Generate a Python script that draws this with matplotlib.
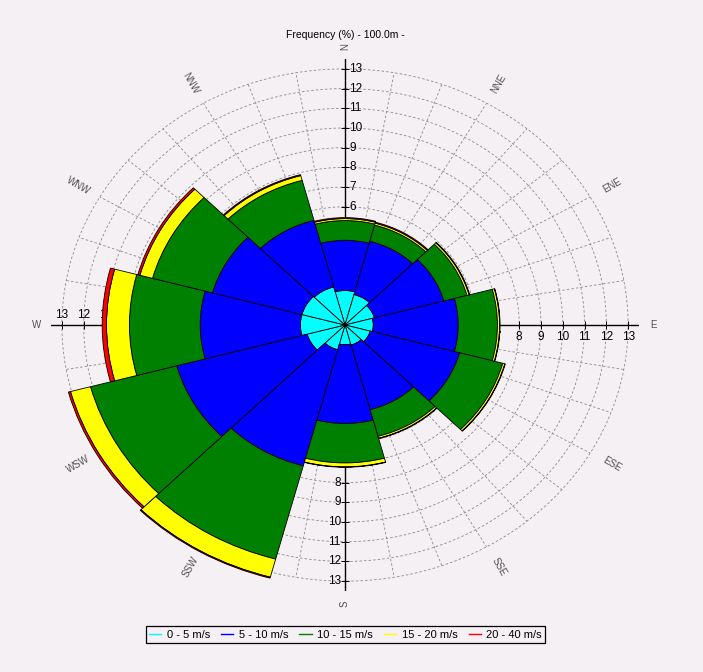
import numpy as np
import matplotlib
matplotlib.use("Agg")
import matplotlib.pyplot as plt
from matplotlib.lines import Line2D

plt.rcParams['font.family'] = ['Liberation Sans', 'DejaVu Sans']

directions = ["N", "NNE", "ENE", "E", "ESE", "SSE", "S", "SSW", "WSW", "W", "WNW", "NNW"]
dir_angles = [0, 30, 60, 90, 120, 150, 180, 210, 240, 270, 300, 330]

speed_labels = ["0 - 5 m/s", "5 - 10 m/s", "10 - 15 m/s", "15 - 20 m/s", "20 - 40 m/s"]
speed_colors = ["#00ffff", "#0000ff", "#008000", "#ffff00", "#ff0000"]

# frequency (%) per direction for each speed class
freq_0_5 = [1.75, 1.6, 1.4, 1.3, 1.2, 1.05, 1.0, 1.3, 1.8, 2.05, 2.05, 2.0]
freq_5_10 = [2.55, 2.8, 3.3, 3.9, 4.25, 3.4, 4.0, 6.1, 6.2, 4.6, 4.25, 3.5]
freq_10_15 = [1.0, 0.85, 1.1, 1.8, 2.05, 1.4, 2.0, 4.9, 4.1, 3.25, 2.85, 2.1]
freq_15_20 = [0.1, 0.1, 0.1, 0.1, 0.1, 0.1, 0.2, 0.95, 0.95, 1.05, 0.6, 0.25]
freq_20_40 = [0.05, 0.05, 0.03, 0.02, 0.02, 0.02, 0.02, 0.05, 0.1, 0.2, 0.1, 0.05]

ring_values = list(range(1, 14))

bg = "#f4f0f4"
RMAX = 13.5

fig = plt.figure(figsize=(7.03, 6.72), dpi=100, facecolor=bg)
ax = fig.add_axes([51 / 703, 81 / 672, 588 / 703, 532 / 672], projection="polar")
ax.set_facecolor(bg)
ax.set_theta_zero_location("N")
ax.set_theta_direction(-1)
ax.set_aspect("auto")
ax.set_ylim(0, RMAX)
ax.grid(False)
ax.set_xticks([])
ax.set_yticks([])
ax.spines["polar"].set_visible(False)
ax.patch.set_visible(False)

# dashed grid
full = np.linspace(0, 2 * np.pi, 400)
for r in ring_values:
    ax.plot(full, [r] * len(full), color="#8a8a8a", lw=0.6, ls=(0, (3, 2.5)), zorder=1)
for a in range(0, 360, 10):
    ax.plot([np.radians(a)] * 2, [0, 13], color="#8a8a8a", lw=0.6, ls=(0, (3, 2.5)), zorder=1)

# main axes with ticks and labels
for a in [0, 90, 180, 270]:
    th = np.radians(a)
    ax.plot([th, th], [0, RMAX], color="black", lw=1.0, zorder=2)
    mk = "_" if a in (0, 180) else "|"
    ax.plot([th] * len(ring_values), ring_values, ls="none", marker=mk, ms=6, mew=0.7,
            color="black", zorder=2)
    for v in ring_values:
        if a == 0:
            off, ha, va = (3, 0), "left", "center"
        elif a == 90:
            off, ha, va = (0, -4), "center", "top"
        elif a == 180:
            off, ha, va = (-3, 0), "right", "center"
        else:
            off, ha, va = (0, 3), "center", "bottom"
        ax.annotate(str(v), xy=(th, v), xytext=off, textcoords="offset points",
                    ha=ha, va=va, fontsize=8.5, zorder=2)

# stacked bars
theta = np.radians(dir_angles)
width = np.radians(30)
bottom = np.zeros(len(directions))
for vals, col in zip([freq_0_5, freq_5_10, freq_10_15, freq_15_20, freq_20_40], speed_colors):
    ax.bar(theta, vals, width=width, bottom=bottom, color=col, edgecolor="black",
           linewidth=0.6, zorder=3)
    bottom = bottom + np.array(vals)

# direction labels
for name, a in zip(directions, dir_angles):
    rot = 90 - a
    while rot > 90:
        rot -= 180
    while rot <= -90:
        rot += 180
    ax.text(np.radians(a), 14.15, name, rotation=rot, rotation_mode="anchor",
            ha="center", va="center", fontsize=7, color="#505050", zorder=4)

fig.text(345 / 703, 1 - 35 / 672, "Frequency (%) - 100.0m -", ha="center", va="center", fontsize=7.5)

handles = [Line2D([0], [0], color=c, lw=1) for c in speed_colors]
leg = fig.legend(handles, speed_labels, loc="center", bbox_to_anchor=(345.5 / 703, 1 - 634.5 / 672),
                 ncol=5, fontsize=8, frameon=True, fancybox=False, framealpha=1,
                 facecolor=bg, edgecolor="black", handlelength=1.1, handletextpad=0.5,
                 columnspacing=1.0, borderpad=0.3, borderaxespad=0)
leg.get_frame().set_linewidth(0.9)

fig.savefig("out.png", dpi=100, facecolor=bg)
